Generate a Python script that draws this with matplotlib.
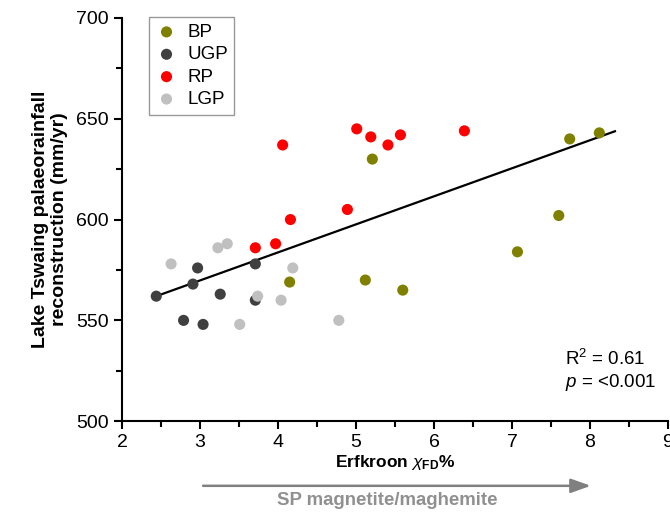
import numpy as np
import matplotlib
matplotlib.use('Agg')
import matplotlib.pyplot as plt
import matplotlib.transforms as mtransforms

plt.rcParams['font.family'] = ['Liberation Sans', 'DejaVu Sans']
plt.rcParams['mathtext.fontset'] = 'custom'
plt.rcParams['mathtext.rm'] = 'Liberation Sans'
plt.rcParams['mathtext.it'] = 'Liberation Sans:italic'
plt.rcParams['mathtext.bf'] = 'Liberation Sans:bold'

# Erfkroon chi_FD % vs reconstructed rainfall (mm/yr), by period
bp_x = [5.21, 4.15, 5.12, 5.60, 7.07, 7.60, 7.74, 8.12]
bp_y = [630, 569, 570, 565, 584, 602, 640, 643]

ugp_x = [2.44, 2.79, 2.97, 2.91, 3.04, 3.26, 3.71, 3.71]
ugp_y = [562, 550, 576, 568, 548, 563, 578, 560]

rp_x = [3.71, 3.97, 4.16, 4.89, 4.06, 5.01, 5.19, 5.41, 5.57, 6.39]
rp_y = [586, 588, 600, 605, 637, 645, 641, 637, 642, 644]

lgp_x = [2.63, 3.23, 3.35, 3.51, 3.74, 4.04, 4.19, 4.78]
lgp_y = [578, 586, 588, 548, 562, 560, 576, 550]

# regression line end points
fit_x = [2.44, 8.32]
fit_y = [562, 643.8]

groups = [
    ("BP", bp_x, bp_y, "#808000"),
    ("UGP", ugp_x, ugp_y, "#404040"),
    ("RP", rp_x, rp_y, "#ff0000"),
    ("LGP", lgp_x, lgp_y, "#c0c0c0"),
]

fig = plt.figure(figsize=(6.7, 5.13), dpi=100)
ax = fig.add_axes([0.182, 0.179, 0.815, 0.786])

for name, xs, ys, col in groups:
    ax.scatter(xs, ys, s=64, color=col, edgecolors='none', label=name, zorder=3)

ax.plot(fit_x, fit_y, color='black', lw=1.6, zorder=2)

ax.set_xlim(2, 9)
ax.set_ylim(500, 700)
ax.set_xticks(range(2, 10))
ax.set_yticks(range(500, 701, 50))
ax.set_xticks(np.arange(2.5, 9, 1), minor=True)
ax.set_yticks(np.arange(525, 700, 50), minor=True)
ax.spines['top'].set_visible(False)
ax.spines['right'].set_visible(False)
for s in ('left', 'bottom'):
    ax.spines[s].set_linewidth(1.5)
ax.tick_params(which='major', direction='out', length=6, width=1.5, labelsize=14)
ax.tick_params(which='minor', direction='out', length=4, width=1.5)

ax.set_xlabel(r"Erfkroon $\chi_{\mathbf{FD}}$%", fontsize=12.5, fontweight='bold', labelpad=1)
ax.set_ylabel("Lake Tswaing palaeorainfall\nreconstruction (mm/yr)",
              fontsize=14, fontweight='bold', labelpad=6, linespacing=1.1)

leg = ax.legend(loc='upper left', bbox_to_anchor=(0.049, 1.002), fontsize=13.5,
                frameon=True, fancybox=False, handletextpad=0.5,
                borderpad=0.35, labelspacing=0.28, handlelength=1.2,
                borderaxespad=0, markerscale=1.0)
leg.get_frame().set_edgecolor('#808080')
leg.get_frame().set_linewidth(1.0)

ax.text(7.68, 531, r"R$^2$ = 0.61", fontsize=13.5, va='center', ha='left')
ax.text(7.68, 519, r"$\it{p}$ = <0.001", fontsize=13.5, va='center', ha='left')

# arrow below axis
trans = mtransforms.blended_transform_factory(ax.transData, fig.transFigure)
ax.annotate("", xy=(8.01, 0.053), xytext=(3.04, 0.053),
            xycoords=trans, textcoords=trans, annotation_clip=False,
            arrowprops=dict(arrowstyle='-|>,head_length=1.2,head_width=0.43',
                            color='#808080', lw=1.8, shrinkA=0, shrinkB=0))
ax.text(5.40, 0.025, "SP magnetite/maghemite", transform=trans,
        ha='center', va='center', fontsize=13.4, fontweight='bold', color='#909090')

fig.savefig("out.png", dpi=100)
